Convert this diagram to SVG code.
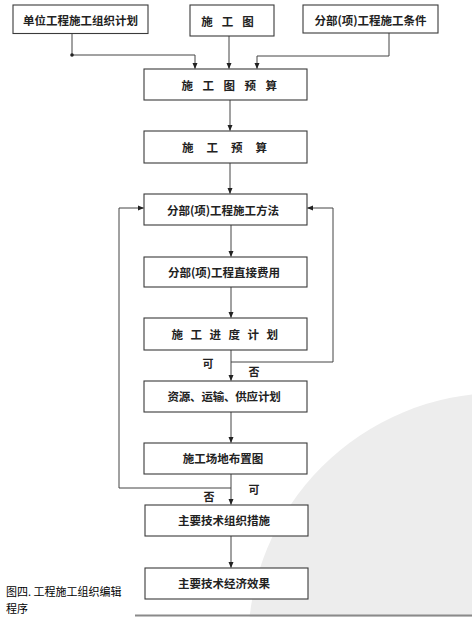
<svg xmlns="http://www.w3.org/2000/svg" width="472" height="617" viewBox="0 0 472 617">
<defs>
<style>
.box{fill:#fff;stroke:#3a3a3a;stroke-width:1.1}
.t{font-family:"Noto Sans CJK SC","Noto Sans",sans-serif;font-size:11.5px;font-weight:bold;fill:#222;text-anchor:middle;dominant-baseline:central}
.lbl{font-family:"Noto Sans CJK SC","Noto Sans",sans-serif;font-size:11px;font-weight:bold;fill:#222;text-anchor:middle;dominant-baseline:central}
.ln{fill:none;stroke:#444;stroke-width:1}
.cap{font-family:"Noto Sans CJK SC","Noto Sans",sans-serif;font-size:11px;fill:#000}
</style>
<marker id="ah" viewBox="0 0 6 6" refX="5.5" refY="3" markerWidth="6" markerHeight="6" orient="auto" markerUnits="userSpaceOnUse">
<path d="M0,0.5 L6,3 L0,5.5 Z" fill="#222"/>
</marker>
</defs>
<rect width="472" height="617" fill="#fff"/>
<circle cx="500" cy="645" r="252" fill="#ededed"/>
<line x1="135" y1="615.5" x2="472" y2="615.5" stroke="#8a8a8a" stroke-width="2"/>
<g id="connectors">
<path class="ln" d="M72,34 V55 H195 V68.5" marker-end="url(#ah)"/>
<circle cx="72" cy="55" r="1.8" fill="#222"/>
<path class="ln" d="M229,36 V68.5" marker-end="url(#ah)"/>
<path class="ln" d="M389,33 V56 H257 V68.5" marker-end="url(#ah)"/>
<path class="ln" d="M230,100 V130.5" marker-end="url(#ah)"/>
<path class="ln" d="M230,163 V193.5" marker-end="url(#ah)"/>
<path class="ln" d="M231,225 V256.5" marker-end="url(#ah)"/>
<path class="ln" d="M231,287 V317.5" marker-end="url(#ah)"/>
<path class="ln" d="M231,350 V380.5" marker-end="url(#ah)"/>
<path class="ln" d="M231,362 H333 V208 H307.5" marker-end="url(#ah)"/>
<path class="ln" d="M231,412 V442.5" marker-end="url(#ah)"/>
<path class="ln" d="M231,474 V504.5" marker-end="url(#ah)"/>
<path class="ln" d="M231,488 H119 V208 H143.5" marker-end="url(#ah)"/>
<path class="ln" d="M231,536 V567.5" marker-end="url(#ah)"/>
<text class="lbl" x="208" y="363">可</text>
<text class="lbl" x="254" y="371">否</text>
<text class="lbl" x="254" y="489">可</text>
<text class="lbl" x="209" y="496">否</text>
</g>
<g id="n1"><rect class="box" x="13" y="5" width="135" height="28.5"/><text class="t" x="80.5" y="20">单位工程施工组织计划</text></g>
<g id="n2"><rect class="box" x="190" y="5" width="84" height="31"/><text class="t" x="232" y="21" letter-spacing="9">施工图</text></g>
<g id="n3"><rect class="box" x="303" y="5" width="135" height="28"/><text class="t" x="370.5" y="20">分部(项)工程施工条件</text></g>
<g id="n4"><rect class="box" x="144" y="69" width="163" height="31"/><text class="t" x="234" y="85" letter-spacing="9.5">施工图预算</text></g>
<g id="n5"><rect class="box" x="144" y="131" width="163" height="32"/><text class="t" x="231" y="147" letter-spacing="13">施工预算</text></g>
<g id="n6"><rect class="box" x="144" y="194" width="163" height="31"/><text class="t" x="223" y="210">分部(项)工程施工方法</text></g>
<g id="n7"><rect class="box" x="144" y="257" width="163" height="30"/><text class="t" x="224" y="272">分部(项)工程直接费用</text></g>
<g id="n8"><rect class="box" x="144" y="318" width="163" height="32"/><text class="t" x="228.5" y="334" letter-spacing="7.5">施工进度计划</text></g>
<g id="n9"><rect class="box" x="144" y="381" width="163" height="31"/><text class="t" x="224" y="396" letter-spacing="-0.2">资源、运输、供应计划</text></g>
<g id="n10"><rect class="box" x="144" y="443" width="163" height="31"/><text class="t" x="223" y="458">施工场地布置图</text></g>
<g id="n11"><rect class="box" x="145" y="505" width="163" height="31"/><text class="t" x="224" y="520">主要技术组织措施</text></g>
<g id="n12"><rect class="box" x="145" y="568" width="163" height="31"/><text class="t" x="224" y="583">主要技术经济效果</text></g>
<text class="cap" x="6" y="596">图四. 工程施工组织编辑</text>
<text class="cap" x="6" y="613">程序</text>
</svg>
